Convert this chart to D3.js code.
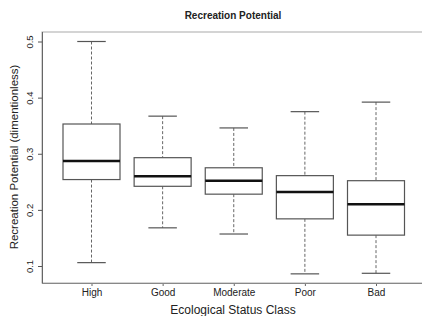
<!DOCTYPE html>
<html>
<head>
<meta charset="utf-8">
<script src="https://cdn.jsdelivr.net/npm/d3@7"></script>
<style>
  body { margin: 0; background: #fff; }
  text { font-family: "Liberation Sans", Arial, sans-serif; fill: #222; }
</style>
</head>
<body>
<div id="chart"></div>
<script>
var classes = ["High", "Good", "Moderate", "Poor", "Bad"];
var whiskerLow = [0.106, 0.168, 0.157, 0.086, 0.087];
var q1 = [0.254, 0.242, 0.228, 0.184, 0.155];
var medians = [0.287, 0.260, 0.252, 0.232, 0.210];
var q3 = [0.353, 0.293, 0.275, 0.261, 0.252];
var whiskerHigh = [0.500, 0.367, 0.346, 0.375, 0.392];
var yTicks = [0.1, 0.2, 0.3, 0.4, 0.5];

var data = classes.map(function (c, i) {
  return { name: c, lo: whiskerLow[i], q1: q1[i], med: medians[i], q3: q3[i], hi: whiskerHigh[i] };
});

var width = 422, height = 316;
var margin = {top: 32, right: -4, bottom: 33, left: 42};
var innerW = width - margin.left - margin.right;
var innerH = height - margin.top - margin.bottom;

var svg = d3.select("#chart").append("svg")
  .attr("width", width)
  .attr("height", height);

var g = svg.append("g")
  .attr("transform", "translate(" + margin.left + "," + margin.top + ")");

var x = d3.scalePoint()
  .domain(classes)
  .range([49.5, 334])
  .padding(0);

var y = d3.scaleLinear()
  .domain([0.5, 0.1])
  .range([9.5, 234]);

var boxW = 57;

// frame
g.append("rect")
  .attr("x", 0).attr("y", 0)
  .attr("width", innerW).attr("height", innerH)
  .attr("fill", "none")
  .attr("stroke", "#aaa")
  .attr("stroke-width", 1);

// y axis
var yAxis = g.append("g")
  .call(d3.axisLeft(y).tickValues(yTicks).tickSize(4).tickFormat(d3.format(".1f")));
yAxis.select(".domain").remove();
yAxis.selectAll("line").attr("stroke", "#555");
yAxis.selectAll("text")
  .attr("transform", "rotate(-90)")
  .attr("x", 0).attr("y", -9)
  .attr("dy", 0)
  .style("text-anchor", "middle")
  .style("font-size", "9.5px")
  .style("font-family", "'Liberation Sans', Arial, sans-serif")
  .attr("fill", "#222");
g.append("line")
  .attr("x1", 0.5).attr("x2", 0.5)
  .attr("y1", 0).attr("y2", innerH)
  .attr("stroke", "#666");

// x axis
var xAxis = g.append("g")
  .attr("transform", "translate(0," + innerH + ")")
  .call(d3.axisBottom(x).tickSize(3).tickPadding(3));
xAxis.select(".domain").remove();
xAxis.selectAll("line").attr("stroke", "#666");
xAxis.selectAll("text")
  .style("font-size", "10px")
  .style("font-family", "'Liberation Sans', Arial, sans-serif")
  .attr("fill", "#222");
g.append("line")
  .attr("x1", 0).attr("x2", innerW)
  .attr("y1", innerH + 0.5).attr("y2", innerH + 0.5)
  .attr("stroke", "#888");

// boxes
var boxes = g.selectAll(".box")
  .data(data)
  .enter().append("g")
  .attr("class", "box");

boxes.append("line")
  .attr("x1", function (d) { return x(d.name); })
  .attr("x2", function (d) { return x(d.name); })
  .attr("y1", function (d) { return y(d.hi); })
  .attr("y2", function (d) { return y(d.q3); })
  .attr("stroke", "#666").attr("stroke-dasharray", "3,2");
boxes.append("line")
  .attr("x1", function (d) { return x(d.name); })
  .attr("x2", function (d) { return x(d.name); })
  .attr("y1", function (d) { return y(d.q1); })
  .attr("y2", function (d) { return y(d.lo); })
  .attr("stroke", "#666").attr("stroke-dasharray", "3,2");

boxes.selectAll(".cap")
  .data(function (d) { return [{n: d.name, v: d.hi}, {n: d.name, v: d.lo}]; })
  .enter().append("line")
  .attr("x1", function (d) { return x(d.n) - boxW / 4; })
  .attr("x2", function (d) { return x(d.n) + boxW / 4; })
  .attr("y1", function (d) { return y(d.v); })
  .attr("y2", function (d) { return y(d.v); })
  .attr("stroke", "#555").attr("stroke-width", 1.2);

boxes.append("rect")
  .attr("x", function (d) { return x(d.name) - boxW / 2; })
  .attr("y", function (d) { return y(d.q3); })
  .attr("width", boxW)
  .attr("height", function (d) { return y(d.q1) - y(d.q3); })
  .attr("fill", "#fff")
  .attr("stroke", "#555")
  .attr("stroke-width", 1.2);

boxes.append("line")
  .attr("x1", function (d) { return x(d.name) - boxW / 2; })
  .attr("x2", function (d) { return x(d.name) + boxW / 2; })
  .attr("y1", function (d) { return y(d.med); })
  .attr("y2", function (d) { return y(d.med); })
  .attr("stroke", "#111")
  .attr("stroke-width", 2.5);

// titles
svg.append("text")
  .attr("x", 233).attr("y", 19)
  .attr("text-anchor", "middle")
  .style("font-size", "10px")
  .style("font-weight", "bold")
  .text("Recreation Potential");

svg.append("text")
  .attr("x", 233).attr("y", 314)
  .attr("text-anchor", "middle")
  .style("font-size", "12px")
  .text("Ecological Status Class");

svg.append("text")
  .attr("transform", "translate(18,157) rotate(-90)")
  .attr("text-anchor", "middle")
  .style("font-size", "11.5px")
  .text("Recreation Potential (dimentionless)");
</script>
</body>
</html>
